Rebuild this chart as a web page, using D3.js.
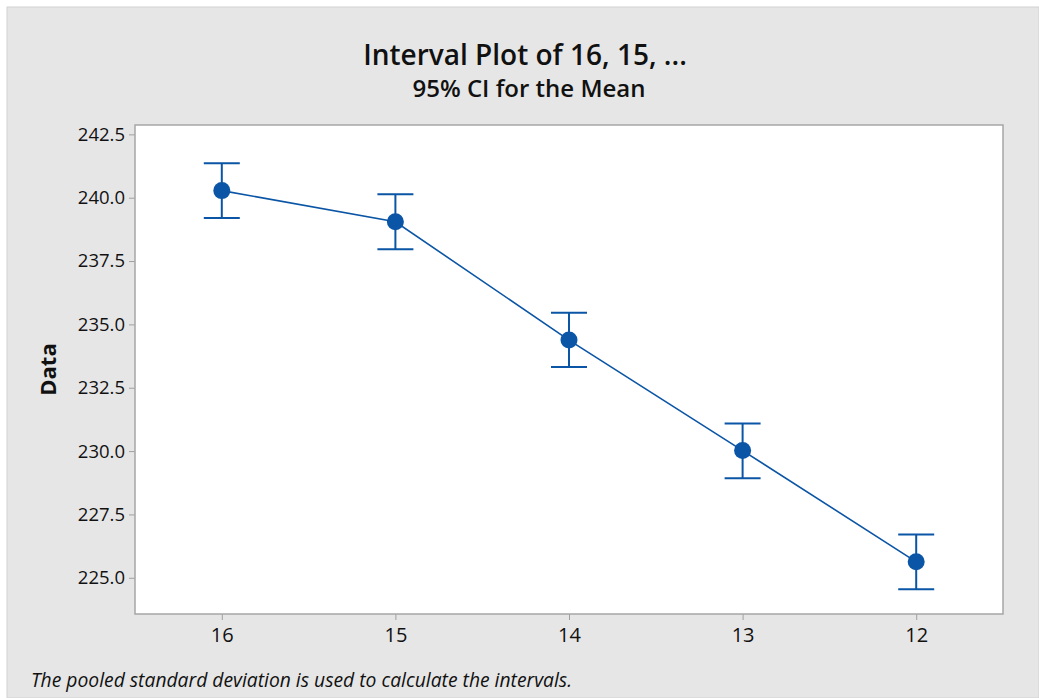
<!DOCTYPE html>
<html><head><meta charset="utf-8">
<script src="https://cdn.jsdelivr.net/npm/d3@7"></script>
<style>body{margin:0;background:#fff;}svg{display:block;}</style>
</head><body>
<svg id="chart" width="1039" height="698"></svg>
<script>
const categories = ["16", "15", "14", "13", "12"];
const means = [240.28, 239.05, 234.38, 230.02, 225.63];
const lower = [239.20, 237.97, 233.32, 228.93, 224.55];
const upper = [241.36, 240.14, 235.46, 231.09, 226.71];
const yTicks = [225.0, 227.5, 230.0, 232.5, 235.0, 237.5, 240.0, 242.5];

const svg = d3.select("#chart");
const W = 1039, H = 698;
const font = "'Open Sans', 'Noto Sans', sans-serif";
const blue = "#0a55a5";

svg.append("rect").attr("x", 7).attr("y", 7).attr("width", W - 7).attr("height", H - 7)
  .attr("fill", "#e6e6e6").attr("stroke", "#d2d2d2");

const L = 135, T = 125, R = 1003, B = 614;
svg.append("rect").attr("x", L).attr("y", T).attr("width", R - L).attr("height", B - T)
  .attr("fill", "#fff");

const x = d3.scalePoint().domain(categories).range([L, R]).padding(0.5);
const y = d3.scaleLinear().domain([223.57, 242.87]).range([B, T]);

const yAxis = svg.append("g").attr("transform", `translate(${L},0)`)
  .call(d3.axisLeft(y).tickValues(yTicks).tickFormat(d3.format(".1f")).tickSize(6).tickPadding(4));
const xAxis = svg.append("g").attr("transform", `translate(0,${B})`)
  .call(d3.axisBottom(x).tickSize(6).tickPadding(8));
[yAxis, xAxis].forEach(a => {
  a.select(".domain").remove();
  a.selectAll("line").attr("stroke", "#a0a0a0");
  a.selectAll("text").attr("font-family", font).attr("fill", "#111");
});
yAxis.selectAll("text").attr("font-size", 18.5);
xAxis.selectAll("text").attr("font-size", 20);

svg.append("rect").attr("x", L).attr("y", T).attr("width", R - L).attr("height", B - T)
  .attr("fill", "none").attr("stroke", "#a6a6a6").attr("stroke-width", 1.5);

const data = categories.map((c, i) => ({c, m: means[i], lo: lower[i], hi: upper[i]}));

svg.append("path").datum(data)
  .attr("d", d3.line().x(d => x(d.c)).y(d => y(d.m)))
  .attr("fill", "none").attr("stroke", blue).attr("stroke-width", 1.6);

const g = svg.append("g").selectAll("g").data(data).join("g");
g.append("line").attr("x1", d => x(d.c)).attr("x2", d => x(d.c))
  .attr("y1", d => y(d.lo)).attr("y2", d => y(d.hi)).attr("stroke", blue).attr("stroke-width", 2);
g.append("line").attr("x1", d => x(d.c) - 18).attr("x2", d => x(d.c) + 18)
  .attr("y1", d => y(d.hi)).attr("y2", d => y(d.hi)).attr("stroke", blue).attr("stroke-width", 2);
g.append("line").attr("x1", d => x(d.c) - 18).attr("x2", d => x(d.c) + 18)
  .attr("y1", d => y(d.lo)).attr("y2", d => y(d.lo)).attr("stroke", blue).attr("stroke-width", 2);
g.append("circle").attr("cx", d => x(d.c)).attr("cy", d => y(d.m)).attr("r", 8.5).attr("fill", blue);

svg.append("text").attr("x", 525).attr("y", 65).attr("text-anchor", "middle")
  .attr("font-family", font).attr("font-size", 28).attr("font-weight", 600).attr("fill", "#111")
  .text("Interval Plot of 16, 15, ...");
svg.append("text").attr("x", 529).attr("y", 97).attr("text-anchor", "middle")
  .attr("font-family", font).attr("font-size", 24).attr("font-weight", 600).attr("fill", "#111")
  .text("95% CI for the Mean");
svg.append("text").attr("transform", `translate(56,${(T + B) / 2}) rotate(-90)`).attr("text-anchor", "middle")
  .attr("font-family", font).attr("font-size", 22).attr("font-weight", 700).attr("fill", "#111")
  .text("Data");
svg.append("text").attr("x", 31).attr("y", 687)
  .attr("font-family", font).attr("font-size", 19.3).attr("font-style", "italic").attr("fill", "#111")
  .text("The pooled standard deviation is used to calculate the intervals.");
</script>
</body></html>
